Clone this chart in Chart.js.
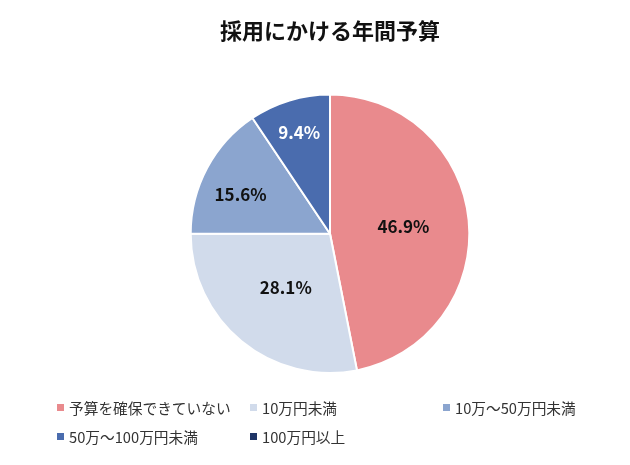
<!DOCTYPE html>
<html><head><meta charset="utf-8">
<script src="https://cdn.jsdelivr.net/npm/chart.js@4"></script>
<style>
html,body{margin:0;padding:0;background:#fff;}
#wrap{position:relative;width:630px;height:465px;}
#legend{position:absolute;left:57px;top:397px;display:grid;grid-template-columns:193px 193px auto;row-gap:9px;font-family:"Noto Sans CJK JP","Noto Sans",sans-serif;font-size:14.7px;color:#333;}
.item{display:flex;align-items:center;height:20px;white-space:nowrap;}
.sw{width:7px;height:7px;margin-right:5px;flex:none;}
</style></head>
<body><div id="wrap"><canvas id="c" width="630" height="465"></canvas><div id="legend"></div></div>
<script>
const title = "採用にかける年間予算";
const categories = ["予算を確保できていない","10万円未満","10万〜50万円未満","50万〜100万円未満","100万円以上"];
const values = [46.9, 28.1, 15.6, 9.4, 0];
const colors = ["#E98A8D","#D1DBEB","#8BA5CF","#4A6CAE","#1F3566"];
const labelColors = ["#111","#111","#111","#fff","#fff"];
const labelRadius = [0.53, 0.5, 0.7, 0.76, 0.5];
const labelAngleShift = [0, 0, -0.08, 0, 0];

const labelPlugin = {
  id:'sliceLabels',
  afterDatasetsDraw(chart){
    const ctx = chart.ctx;
    const meta = chart.getDatasetMeta(0);
    ctx.save();
    ctx.font = 'bold 17px "Noto Sans CJK JP","Noto Sans",sans-serif';
    ctx.textAlign='center'; ctx.textBaseline='middle';
    meta.data.forEach((arc,i)=>{
      if(!values[i]) return;
      const a = (arc.startAngle+arc.endAngle)/2 + labelAngleShift[i];
      const r = arc.outerRadius*labelRadius[i];
      ctx.fillStyle = labelColors[i];
      ctx.fillText(values[i].toFixed(1)+'%', arc.x+Math.cos(a)*r, arc.y+Math.sin(a)*r);
    });
    ctx.restore();
  }
};

new Chart(document.getElementById('c'),{
  type:'pie',
  data:{labels:categories,datasets:[{data:values,backgroundColor:colors,borderColor:'#fff',borderWidth:2}]},
  options:{
    responsive:false,animation:false,
    layout:{padding:{left:30,right:0,top:0,bottom:91}},
    plugins:{
      legend:{display:false},tooltip:{enabled:false},
      title:{display:true,text:title,color:'#111',font:{family:'"Noto Sans CJK JP","Noto Sans",sans-serif',size:22,weight:'bold'},padding:{top:17,bottom:50}}
    }
  },
  plugins:[labelPlugin]
});

const lg = document.getElementById('legend');
categories.forEach((c,i)=>{
  const d=document.createElement('div');d.className='item';
  const s=document.createElement('span');s.className='sw';s.style.background=colors[i];
  const t=document.createElement('span');t.textContent=c;
  d.appendChild(s);d.appendChild(t);lg.appendChild(d);
});
</script></body></html>
